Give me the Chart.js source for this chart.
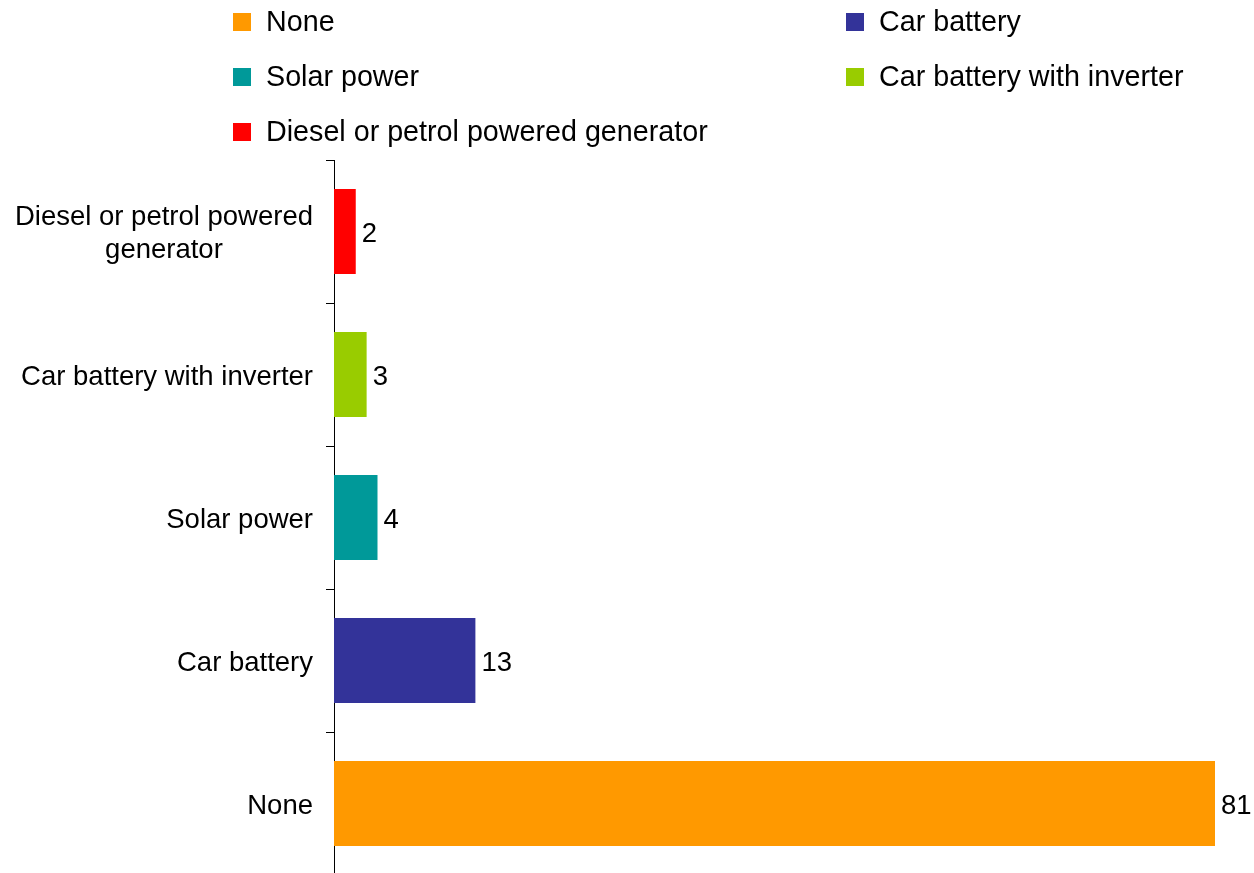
<!DOCTYPE html>
<html>
<head>
<meta charset="utf-8">
<script src="https://cdn.jsdelivr.net/npm/chart.js@4.4.1/dist/chart.umd.min.js"></script>
<style>
  html, body { margin: 0; padding: 0; background: #fff; overflow: hidden; }
  #wrap { width: 1254px; height: 873px; overflow: hidden; }
</style>
</head>
<body>
<div id="wrap"><canvas id="c" width="1254" height="875"></canvas></div>
<script>
// categories in legend order (None first, drawn at the bottom)
const categories = ['None', 'Car battery', 'Solar power', 'Car battery with inverter', ['Diesel or petrol powered', 'generator']];
const legendNames = ['None', 'Car battery', 'Solar power', 'Car battery with inverter', 'Diesel or petrol powered generator'];
const values = [81, 13, 4, 3, 2];
const barColours = ['#FF9900', '#333399', '#009999', '#99CC00', '#FF0000'];

const FONT = '27.5px "Liberation Sans", Arial, sans-serif';
const LEGEND_FONT = '28.7px "Liberation Sans", Arial, sans-serif';

// category names left of the axis, block right-aligned, lines centred
const catLabels = {
  id: 'catLabels',
  afterDraw(chart){
    const ctx = chart.ctx, ys = chart.scales.y;
    ctx.save();
    ctx.font = FONT;
    ctx.fillStyle = '#000';
    ctx.textAlign = 'center';
    ctx.textBaseline = 'middle';
    categories.forEach(function(lbl, i){
      const lines = Array.isArray(lbl) ? lbl : [lbl];
      let w = 0;
      lines.forEach(function(l){ w = Math.max(w, ctx.measureText(l).width); });
      const cx = 313 - w/2, lh = 33;
      const y0 = ys.getPixelForValue(i) + 2.5 - (lines.length-1)*lh/2;
      lines.forEach(function(l, j){ ctx.fillText(l, cx, y0 + j*lh); });
    });
    ctx.restore();
  }
};

// value at the end of each bar
const valueLabels = {
  id: 'valueLabels',
  afterDatasetsDraw(chart){
    const ctx = chart.ctx, meta = chart.getDatasetMeta(0);
    ctx.save();
    ctx.font = FONT;
    ctx.fillStyle = '#000';
    ctx.textAlign = 'left';
    ctx.textBaseline = 'middle';
    meta.data.forEach(function(bar, i){
      ctx.fillText(String(values[i]), bar.x + 6, bar.y + 3);
    });
    ctx.restore();
  }
};

// two-column legend at the top
const topLegend = {
  id: 'topLegend',
  afterDraw(chart){
    const ctx = chart.ctx;
    ctx.save();
    ctx.font = LEGEND_FONT;
    ctx.textAlign = 'left';
    ctx.textBaseline = 'middle';
    legendNames.forEach(function(name, i){
      const col = i % 2, row = Math.floor(i / 2);
      const x = col ? 846 : 233, y = 22 + row*55;
      ctx.fillStyle = barColours[i];
      ctx.fillRect(x, y - 9, 18, 18);
      ctx.fillStyle = '#000';
      ctx.fillText(name, x + 33, y + 1);
    });
    ctx.restore();
  }
};

new Chart(document.getElementById('c'), {
  type: 'bar',
  data: {
    labels: legendNames,
    datasets: [{
      data: values,
      backgroundColor: barColours,
      categoryPercentage: 1,
      barPercentage: 0.594
    }]
  },
  options: {
    responsive: false,
    animation: false,
    devicePixelRatio: 1,
    indexAxis: 'y',
    layout: { padding: { left: 0, top: 160, right: 39, bottom: 0 } },
    plugins: { legend: { display: false }, tooltip: { enabled: false } },
    scales: {
      x: { display: false, min: 0, max: 81 },
      y: {
        reverse: true,
        offset: true,
        ticks: { display: false },
        grid: { offset: true, drawOnChartArea: false, color: '#000', tickLength: 8, lineWidth: 1 },
        border: { display: true, color: '#000', width: 1 },
        afterFit(scale){ scale.width = 334; }
      }
    }
  },
  plugins: [catLabels, valueLabels, topLegend]
});
</script>
</body>
</html>
